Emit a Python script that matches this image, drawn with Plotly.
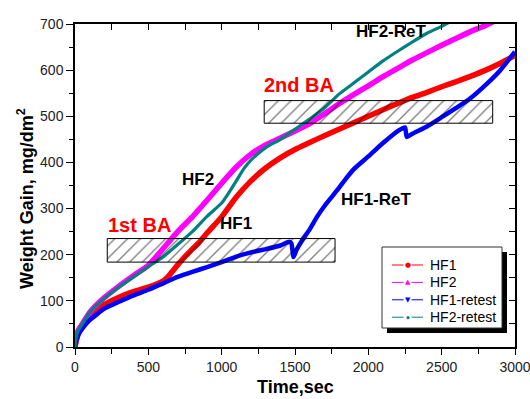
import plotly.graph_objects as go

# ---------------- data ----------------
hf1_t = [0, 10, 25, 50, 100, 200, 300, 400, 500, 600, 620, 650, 700, 750, 800, 850, 900, 1000,
         1100, 1200, 1300, 1400, 1500, 1600, 1700, 1800, 1900, 2000, 2100, 2200, 2300, 2400,
         2500, 2600, 2700, 2800, 2900, 3000]
hf1_w = [0, 15, 30, 45, 68, 92, 108, 120, 130, 143, 148, 158, 178, 196, 212, 228, 247, 282,
         325, 360, 388, 410, 428, 443, 458, 472, 486, 500, 514, 528, 541, 552, 564, 575,
         587, 600, 615, 632]

hf2_t = [0, 10, 25, 50, 100, 200, 300, 400, 500, 600, 700, 800, 900, 1000, 1100, 1200, 1300,
         1400, 1500, 1600, 1700, 1800, 1900, 2000, 2100, 2200, 2300, 2400, 2500, 2600, 2700,
         2800, 2900]
hf2_w = [0, 25, 38, 50, 75, 107, 132, 155, 177, 213, 250, 282, 318, 355, 390, 418, 438,
         453, 468, 484, 505, 527, 547, 566, 586, 604, 622, 638, 654, 669, 684, 697, 713]

hf1r_t = [0, 10, 25, 50, 100, 200, 300, 400, 500, 600, 700, 800, 900, 1000, 1100, 1200, 1300,
          1400, 1460, 1475, 1490, 1510, 1550, 1600, 1650, 1700, 1750, 1800, 1850, 1900, 2000,
          2100, 2200, 2250, 2262, 2300, 2400, 2500, 2600, 2700, 2800, 2900, 3000]
hf1r_w = [0, 15, 28, 40, 58, 83, 98, 112, 124, 138, 152, 163, 173, 184, 196, 205, 212,
          220, 228, 225, 195, 210, 232, 255, 282, 305, 325, 345, 366, 385, 413,
          442, 468, 476, 455, 462, 478, 498, 518, 540, 568, 600, 640]

hf2r_t = [0, 10, 25, 50, 100, 200, 300, 400, 500, 600, 700, 800, 900, 1000, 1050, 1100, 1150,
          1200, 1300, 1400, 1500, 1600, 1700, 1800, 1900, 2000, 2100, 2200, 2300, 2400, 2500,
          2600]
hf2r_w = [0, 25, 38, 50, 75, 105, 130, 152, 174, 195, 222, 250, 283, 312, 335, 360, 386,
          405, 432, 450, 472, 494, 518, 548, 572, 596, 620, 641, 661, 680, 695, 712]

series_names = ["HF1", "HF2", "HF1-retest", "HF2-retest"]
series_colors = ["#FF0000", "#FF00FF", "#0000FF", "#008080"]
legend_symbols = ["circle", "triangle-up", "triangle-down", "diamond"]

ba_x = [[220, 1773], [1290, 2848]]
ba_y = [[184, 235], [485, 534]]

x_title = "Time,sec"
y_title = "Weight Gain, mg/dm<sup>2</sup>"

FONT = "Liberation Sans, Arial, sans-serif"

fig = go.Figure()

curves = [(hf1_t, hf1_w, 5.5), (hf2_t, hf2_w, 5.5), (hf1r_t, hf1r_w, 4.5), (hf2r_t, hf2r_w, 3.2)]
for (t, w, lw), name, col in zip(curves, series_names, series_colors):
    fig.add_trace(go.Scatter(x=t, y=w, mode="lines", name=name, showlegend=False,
                             line=dict(color=col, width=lw, shape="spline", smoothing=0.5)))

# hatched BA bands
for bx, by in zip(ba_x, ba_y):
    fig.add_trace(go.Scatter(x=[bx[0], bx[1], bx[1], bx[0], bx[0]],
                             y=[by[0], by[0], by[1], by[1], by[0]],
                             mode="lines", fill="toself", showlegend=False, hoverinfo="skip",
                             line=dict(color="black", width=1),
                             fillcolor="rgba(0,0,0,0)",
                             fillpattern=dict(shape="/", fgcolor="black", bgcolor="rgba(0,0,0,0)",
                                              size=9, solidity=0.15)))

# ---- legend (drawn in an invisible pixel-space overlay axis pair x3/y3) ----
LX0, LX1, LY0, LY1 = 382, 502, 247, 328      # legend box (px)
SH = 5                                       # shadow offset (px)
ROW0, ROWSTEP = 265, 17.4
SAMPLE_X0, SAMPLE_X1, TEXT_X = 392, 423, 428

fig.add_shape(type="rect", xref="x3", yref="y3", x0=LX0 + SH, x1=LX1 + SH, y0=LY0 + SH, y1=LY1 + SH,
              fillcolor="black", line=dict(width=0), layer="above")
fig.add_shape(type="rect", xref="x3", yref="y3", x0=LX0, x1=LX1, y0=LY0, y1=LY1,
              fillcolor="white", line=dict(color="#333", width=1), layer="above")

for i, (name, col, sym) in enumerate(zip(series_names, series_colors, legend_symbols)):
    ry = ROW0 + i * ROWSTEP
    xm = (SAMPLE_X0 + SAMPLE_X1) / 2
    fig.add_shape(type="line", xref="x3", yref="y3", x0=SAMPLE_X0, x1=xm - 4, y0=ry, y1=ry,
                  line=dict(color=col, width=1), layer="above")
    fig.add_shape(type="line", xref="x3", yref="y3", x0=xm + 4, x1=SAMPLE_X1, y0=ry, y1=ry,
                  line=dict(color=col, width=1), layer="above")
    fig.add_annotation(xref="x3", yref="y3", x=xm, y=ry, showarrow=False,
                       text={"circle": "●", "triangle-up": "▲", "triangle-down": "▼",
                             "diamond": "◆"}[sym],
                       font=dict(family="DejaVu Sans", size=7 if sym != "diamond" else 5, color=col))
    fig.add_annotation(xref="x3", yref="y3", x=TEXT_X, y=ry, showarrow=False, xanchor="left",
                       text=name, font=dict(family=FONT, size=14, color="black"))

# axis titles (paper coordinates; plot area is 440 x 323 px)
fig.add_annotation(xref="paper", yref="paper", x=0.5, y=(347 - 387) / 323, showarrow=False,
                   xanchor="center", yanchor="middle",
                   text="<b>%s</b>" % x_title, font=dict(family=FONT, size=18, color="black"))
fig.add_annotation(xref="paper", yref="paper", x=(25 - 75) / 440, y=(347 - 199) / 323,
                   showarrow=False, textangle=-90, xanchor="center", yanchor="middle",
                   text="<b>%s</b>" % y_title, font=dict(family=FONT, size=18, color="black"))

# dummy traces for the overlay axes
fig.add_trace(go.Scatter(x=[None], y=[None], xaxis="x2", yaxis="y2", showlegend=False))
fig.add_trace(go.Scatter(x=[None], y=[None], xaxis="x3", yaxis="y3", showlegend=False))

annots = [
    dict(text="HF2-ReT", x=2161, y=684, color="black", size=17),
    dict(text="2nd BA", x=1527, y=568, color="#FF0000", size=20),
    dict(text="1st BA", x=443, y=264, color="#FF0000", size=20),
    dict(text="HF2", x=839, y=362, color="black", size=17),
    dict(text="HF1", x=1098, y=267, color="black", size=17),
    dict(text="HF1-ReT", x=2059, y=319, color="black", size=17),
]
for a in annots:
    fig.add_annotation(x=a["x"], y=a["y"], text="<b>%s</b>" % a["text"], showarrow=False,
                       font=dict(family=FONT, size=a["size"], color=a["color"]))

axis_common = dict(showgrid=False, zeroline=False, showline=True, linecolor="black", linewidth=1.5,
                   tickcolor="black", tickwidth=1.2, automargin=False, ticklabeloverflow="allow",
                   tickfont=dict(family=FONT, size=14, color="#222"))

fig.update_layout(
    width=530, height=399,
    margin=dict(l=75, r=15, t=24, b=52),
    paper_bgcolor="white", plot_bgcolor="white",
    showlegend=False,
    xaxis=dict(range=[0, 3000], dtick=500, ticks="outside", ticklen=6,
               minor=dict(dtick=250, ticks="outside", ticklen=5, tickcolor="black"),
               **axis_common),
    yaxis=dict(range=[0, 700], dtick=100, ticks="outside", ticklen=7,
               minor=dict(dtick=50, ticks="outside", ticklen=4, tickcolor="black"),
               **axis_common),
    xaxis2=dict(range=[0, 3000], overlaying="x", side="top", dtick=250, ticks="inside",
                ticklen=6, showticklabels=False, showgrid=False, zeroline=False, showline=True,
                linecolor="black", linewidth=1.5, tickcolor="black", tickwidth=1.2),
    yaxis2=dict(range=[0, 700], overlaying="y", side="right", dtick=50, ticks="inside",
                ticklen=6, showticklabels=False, showgrid=False, zeroline=False, showline=True,
                linecolor="black", linewidth=1.5, tickcolor="black", tickwidth=1.2),
    xaxis3=dict(range=[75, 515], overlaying="x", anchor="y3", visible=False, fixedrange=True),
    yaxis3=dict(range=[347, 24], overlaying="y", anchor="x3", visible=False, fixedrange=True),
)

fig.write_html("out.html", config={"displayModeBar": False},
               post_script="document.body.style.margin='0';document.body.style.overflow='hidden';")
